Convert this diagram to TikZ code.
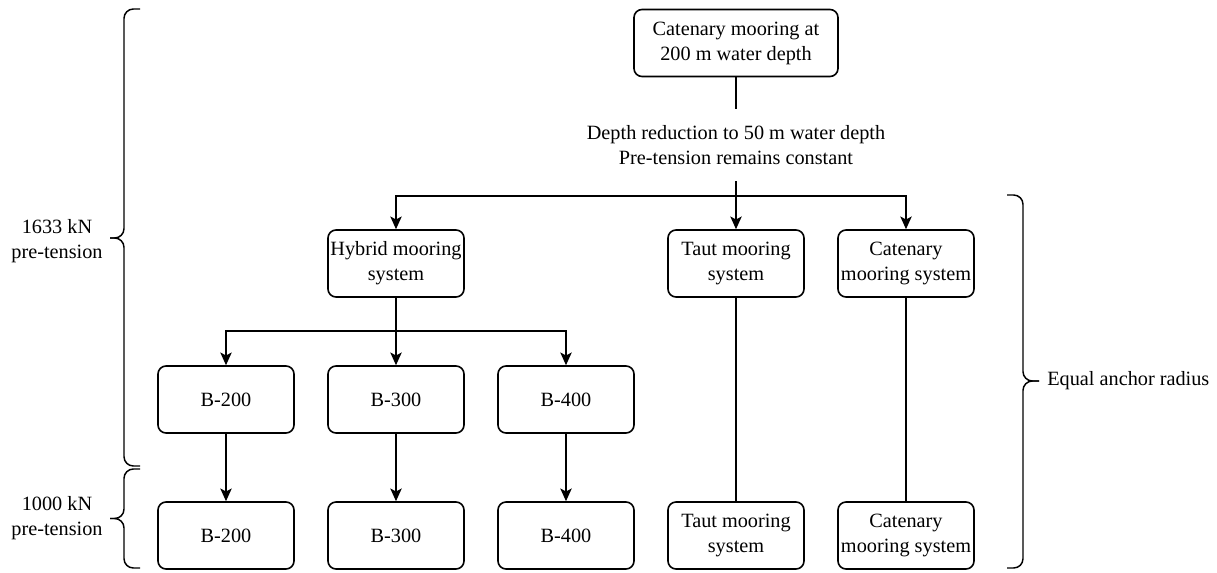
\documentclass[tikz,border=0pt]{standalone}
\usepackage{fontspec}
\setmainfont{Liberation Serif}
\usetikzlibrary{arrows.meta}
\begin{document}
\begin{tikzpicture}[x=0.75pt,y=-0.75pt,
  every node/.style={font=\fontsize{15.2}{18.75}\selectfont},
  box/.style={draw, rounded corners=6pt, line width=1.2pt, align=center,
    inner sep=0pt, minimum width=102pt, minimum height=50.25pt},
  widebox/.style={box, minimum width=153pt},
  link/.style={line width=1.2pt},
  arrow/.style={link, -{Stealth[length=9.5pt,width=8.5pt,inset=2.2pt]}},
  curly/.style={line width=1.1pt, rounded corners=7pt},
  tag/.style={align=center, inner sep=0pt}]
\useasboundingbox (0,0) rectangle (1217,572);

% starting configuration and the change applied to it
\node[widebox] (src) at (736,43) {Catenary mooring at\\200 m water depth};
\node[tag, minimum height=54pt] (change) at (736,145)
  {Depth reduction to 50 m water depth\\Pre-tension remains constant};

% mooring systems at 50 m
\node[box] (hyb) at (396,263.5) {Hybrid mooring\\system};
\node[box] (taut) at (736,263.5) {Taut mooring\\system};
\node[box] (cat) at (906,263.5) {Catenary\\mooring system};

% hybrid variants, 1633 kN
\node[box] (b2a) at (226,399.5) {B-200};
\node[box] (b3a) at (396,399.5) {B-300};
\node[box] (b4a) at (566,399.5) {B-400};

% all variants, 1000 kN
\node[box] (b2b) at (226,535.5) {B-200};
\node[box] (b3b) at (396,535.5) {B-300};
\node[box] (b4b) at (566,535.5) {B-400};
\node[box] (tautb) at (736,535.5) {Taut mooring\\system};
\node[box] (catb) at (906,535.5) {Catenary\\mooring system};

% connectors
\coordinate (fork1) at (736,196);
\coordinate (fork2) at (396,331);
\draw[link] (src.south) -- (change.north);
\draw[arrow] (change.south) -- (taut.north);
\draw[arrow] (fork1) -| (hyb.north);
\draw[arrow] (fork1) -| (cat.north);
\draw[arrow] (hyb.south) -- (b3a.north);
\draw[arrow] (fork2) -| (b2a.north);
\draw[arrow] (fork2) -| (b4a.north);
\draw[arrow] (b2a.south) -- (b2b.north);
\draw[arrow] (b3a.south) -- (b3b.north);
\draw[arrow] (b4a.south) -- (b4b.north);
\draw[link] (taut.south) -- (tautb.north);
\draw[link] (cat.south) -- (catb.north);

% grouping braces: ends, spine and tip
\draw[curly] (140,9) -- (124,9) -- (124,238) -- (110,238);
\draw[curly] (140,466) -- (124,466) -- (124,238) -- (110,238);
\draw[curly] (140,469) -- (124,469) -- (124,518.5) -- (110,518.5);
\draw[curly] (140,568) -- (124,568) -- (124,518.5) -- (110,518.5);
\draw[curly] (1007,195) -- (1023,195) -- (1023,381) -- (1039,381);
\draw[curly] (1007,568) -- (1023,568) -- (1023,381) -- (1039,381);

\node[tag] (hiLabel) at (57,241) {1633 kN\\pre-tension};
\node[tag] (loLabel) at (57,518) {1000 kN\\pre-tension};
\node[tag, anchor=west] (radius) at (1047,381) {Equal anchor radius};
\end{tikzpicture}
\end{document}
